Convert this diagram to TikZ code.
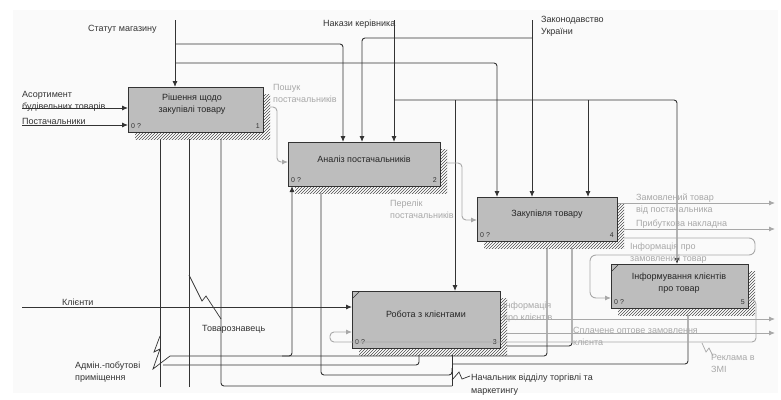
\documentclass[tikz,border=0pt]{standalone}
\usepackage{fontspec}
\setmainfont{Liberation Sans}
\usetikzlibrary{arrows.meta,patterns}
\definecolor{ink}{HTML}{333333}
\definecolor{boxfill}{HTML}{BDBDBD}
\definecolor{faint}{HTML}{A8A8A8}
\definecolor{paper}{HTML}{FAFAFA}
\pgfdeclarelayer{sheet}
\pgfdeclarelayer{wires}
\pgfdeclarelayer{shade}
\pgfsetlayers{sheet,wires,shade,main}

\begin{document}
\begin{tikzpicture}[x=1pt,y=-1pt,
  font=\fontsize{9}{12}\selectfont,
  func/.style={draw=ink, line width=1pt, fill=boxfill, inner sep=0pt, outer sep=0pt},
  ftext/.style={text=black!85, align=center, inner sep=0pt},
  corner/.style={font=\fontsize{7}{8}\selectfont, text=black!80, inner sep=0pt},
  hatch/.style={fill=white, postaction={pattern=north east lines, pattern color=black!70}},
  wire/.style={draw=ink, line width=0.9pt, rounded corners=3pt},
  arr/.style={wire, -{Latex[length=6pt,width=5pt]}},
  gwire/.style={draw=faint, line width=0.9pt, rounded corners=4pt},
  garr/.style={gwire, -{Latex[length=6pt,width=5pt]}},
  lbl/.style={text=ink, inner sep=0pt, align=left},
  glbl/.style={text=faint, inner sep=0pt, align=left},
  squig/.style={draw=ink, line width=0.7pt},
  gsquig/.style={draw=faint, line width=0.7pt},
]
\useasboundingbox (0,0) rectangle (781,399);
\begin{pgfonlayer}{sheet}
\fill[paper] (13,10) rectangle (778,393);
\end{pgfonlayer}

% ---------- function boxes ----------
\node[func, minimum width=135pt, minimum height=45pt] (b1) at (195.5,109.5) {};
\node[func, minimum width=152pt, minimum height=44pt] (b2) at (364,164) {};
\node[func, minimum width=140pt, minimum height=44pt] (b3) at (547,219) {};
\node[func, minimum width=148pt, minimum height=57pt] (b4) at (426,319.5) {};
\node[func, minimum width=137pt, minimum height=44pt] (b5) at (679.5,286) {};

\node[ftext] (b1t) at (192,104) {Рішення щодо\\закупівлі товару};
\node[ftext] (b2t) at (364,159) {Аналіз постачальників};
\node[ftext] (b3t) at (547,214) {Закупівля товару};
\node[ftext] (b4t) at (426,314) {Робота з клієнтами};
\node[ftext] (b5t) at (679,283) {Інформування клієнтів\\про товар};

\foreach \b/\n in {b1/1,b2/2,b3/4,b4/3,b5/5}{
  \node[corner, anchor=base west] (\b c) at ([shift={(3,-4)}]\b.south west) {0 ?};
  \node[corner, anchor=base east] (\b n) at ([shift={(-3,-4)}]\b.south east) {\n};
}
\draw[ink, line width=0.6pt] ([shift={(1,7)}]b4.north west) -- ([shift={(7,1)}]b4.north west);
\draw[ink, line width=0.6pt] ([shift={(1,7)}]b5.north west) -- ([shift={(7,1)}]b5.north west);

% ---------- hatched shadows ----------
\begin{pgfonlayer}{shade}
\foreach \b in {b1,b2,b3,b4,b5}{
  \path[hatch] ([shift={(7,7)}]\b.north west) rectangle ([shift={(7,7)}]\b.south east);
}
\end{pgfonlayer}

% ---------- free ends ----------
\coordinate (statut) at (175,20);
\coordinate (nakazy) at (394,20);
\coordinate (zakon) at (532,20);
\coordinate (asort) at (22,108);
\coordinate (post) at (22,125);
\coordinate (klient) at (22,307);
\coordinate (admin) at (160,387);
\coordinate (tovar) at (189,387);
\coordinate (nach) at (452,386);
\coordinate (vyhid) at (775,0);

\begin{pgfonlayer}{wires}
% controls
\draw[arr] (statut) -- (statut |- b1.north);
\draw[arr] (statut |- 0,44) -- (343,44) -- (343,0 |- b2.north);
\draw[arr] (statut |- 0,63) -- (497,63) -- (497,0 |- b3.north);
\draw[arr] (nakazy) -- (nakazy |- b2.north);
\draw[arr] (nakazy |- 0,100) -- (677,100) -- (677,0 |- b5.north);
\draw[arr] (455,100) -- (455,0 |- b4.north);
\draw[arr] (588,100) -- (588,0 |- b3.north);
\draw[arr] (zakon) -- (zakon |- b3.north);
\draw[arr] (zakon |- 0,38) -- (362,38) -- (362,0 |- b2.north);

% inputs
\draw[arr] (asort) -- (asort -| b1.west);
\draw[arr] (post) -- (post -| b1.west);
\draw[arr] (klient) -- (klient -| b4.west);

% mechanisms
\draw[arr] (admin) -- (admin |- b1.south);
\draw[arr] (170,356) -- (547,356) -- (547,0 |- b3.south);
\draw[arr] (282,356) -- (292,356) -- (292,0 |- b2.south);
\draw[arr] (163,365) -- (419,365) -- (419,0 |- b4.south);
\draw[squig] (160,336) -- (154,352) -- (160,349) -- (153,369) -- (170,356);

\draw[arr] (tovar) -- (tovar |- b1.south);
\draw[squig] (189,275) -- (202,301) -- (206,296) -- (221,319);

\draw[arr] (nach) -- (nach |- b4.south);
\draw[arr] (nach) -- (221,386) -- (221,0 |- b1.south);
\draw[arr] (452,368) -- (452,375) -- (321,375) -- (321,0 |- b2.south);
\draw[arr] (nach |- 0,364) -- (688,364) -- (688,0 |- b5.south);
\draw[squig] (452,380) -- (459,372) -- (462,379) -- (470,376);

\draw[arr] (b4.east |- 0,346) -- (572,346) -- (572,0 |- b3.south);

% outputs
\draw[garr] (b1.east |- 0,107) -- (277,107) -- (277,162) -- (b2.west |- 0,162);
\draw[garr] (b2.east |- 0,163) -- (462,163) -- (462,220) -- (b3.west |- 0,220);
\draw[garr] (b3.east |- 0,203) -- (vyhid |- 0,203);
\draw[garr] (b3.east |- 0,229) -- (vyhid |- 0,229);
\draw[gwire, rounded corners=6pt, -{Latex[length=6pt,width=5pt]}]
  (b3.east |- 0,238) -- (755,238) -- (755,255) -- (590,255) -- (590,298) -- (b5.west |- 0,298);
\draw[garr] (b4.east |- 0,319) -- (vyhid |- 0,319);
\draw[garr] (b4.east |- 0,333) -- (vyhid |- 0,333);
\end{pgfonlayer}

% feedback from box 5 back into box 4, drawn across box 4
\draw[garr] (b5.east |- 0,300) -- (756,300) -- (756,342) -- (330,342) -- (330,332) -- (b4.west |- 0,332);
\draw[gsquig] (702,343) -- (706,352) -- (709,348) -- (713,356);

% ---------- labels ----------
\node[lbl, anchor=base west] (lstatut) at (88,31) {Статут магазину};
\node[lbl, anchor=base west] (lnakazy) at (323,26) {Накази керівника};
\node[lbl, anchor=north west] (lzakon) at (541,16.5) {Законодавство\\України};
\node[lbl, anchor=north west] (lasort) at (22,91.5) {Асортимент\\будівельних товарів};
\node[lbl, anchor=base west] (lpost) at (22,124) {Постачальники};
\node[lbl, anchor=base west] (lklient) at (62,305) {Клієнти};
\node[lbl, anchor=north west] (ladmin) at (75,361.5) {Адмін.-побутові\\приміщення};
\node[lbl, anchor=base west] (ltovar) at (202,331) {Товарознавець};
\node[lbl, anchor=north west] (lnach) at (471,373.5) {Начальник відділу торгівлі та\\[1.5pt]маркетингу};

\node[glbl, anchor=north west] (lposhuk) at (273,84.5) {Пошук\\постачальників};
\node[glbl, anchor=north west] (lperelik) at (390,199.5) {Перелік\\постачальників};
\node[glbl, anchor=north west] (lzamov) at (636,193.5) {Замовлений товар\\від постачальника};
\node[glbl, anchor=base west] (lnakl) at (636,226.5) {Прибуткова накладна};
\node[glbl, anchor=north west] (linfz) at (630,243) {Інформація про\\замовлений товар};
\node[glbl, anchor=north west] (linfk) at (503,301.5) {Інформація\\про клієнтів};
\node[glbl, anchor=north west] (lsplach) at (573,327.5) {Сплачене оптове замовлення\\клієнта};
\node[glbl, anchor=north west] (lreklama) at (711,354.5) {Реклама в\\ЗМІ};
\end{tikzpicture}
\end{document}
